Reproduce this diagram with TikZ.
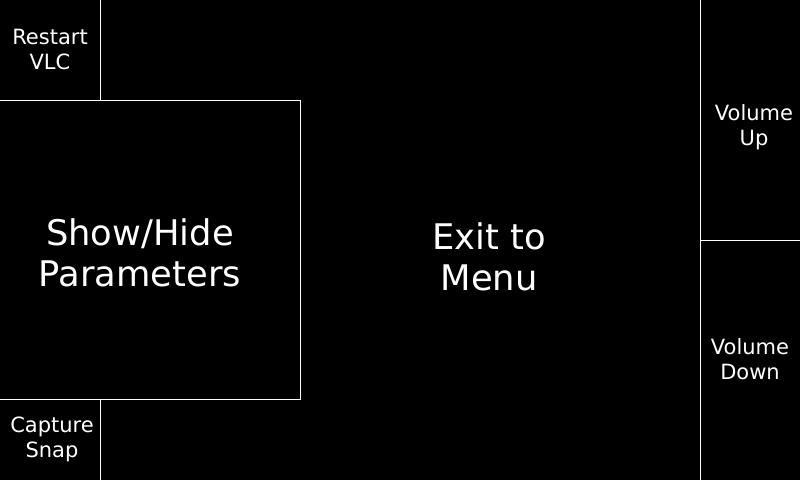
\documentclass[tikz,border=0pt]{standalone}
\usepackage{fontspec}
\setmainfont{DejaVu Sans}
\begin{document}
\begin{tikzpicture}[x=1bp,y=-1bp,
  sep/.style={draw=white,line width=1bp},
  small/.style={text=white,align=center,inner sep=0pt,font=\fontsize{21bp}{25bp}\selectfont},
  big/.style={text=white,align=center,inner sep=0pt,font=\fontsize{35.3bp}{41bp}\selectfont}]
\fill[black] (0,0) rectangle (800,480);
\useasboundingbox (0,0) rectangle (800,480);
% separators
\coordinate (t1) at (100.5,0);
\coordinate (t2) at (100.5,100.5);
\coordinate (b1) at (100.5,399.5);
\coordinate (b2) at (100.5,480);
\coordinate (tl) at (0,100.5);
\coordinate (tr) at (300.5,100.5);
\coordinate (br) at (300.5,399.5);
\coordinate (bl) at (0,399.5);
\coordinate (r1) at (700.5,0);
\coordinate (r2) at (700.5,480);
\coordinate (m1) at (700.5,240.5);
\coordinate (m2) at (800,240.5);
\draw[sep] (t1) -- (t2);
\draw[sep] (b1) -- (b2);
\draw[sep] (tl) -- (tr) -- (br) -- (bl);
\draw[sep] (r1) -- (r2);
\draw[sep] (m1) -- (m2);
% labels
\node[small] (restart) at (50,49) {Restart\\VLC};
\node[small] (capture) at (52,439) {Capture\\Snap};
\node[small] (volup) at (754,127.5) {Volume\\Up};
\node[small] (voldown) at (750,359) {Volume\\Down};
\node[big] (params) at (140,253) {Show/Hide\\Parameters};
\node[big] (exit) at (489,257) {Exit to\\Menu};
\end{tikzpicture}
\end{document}
